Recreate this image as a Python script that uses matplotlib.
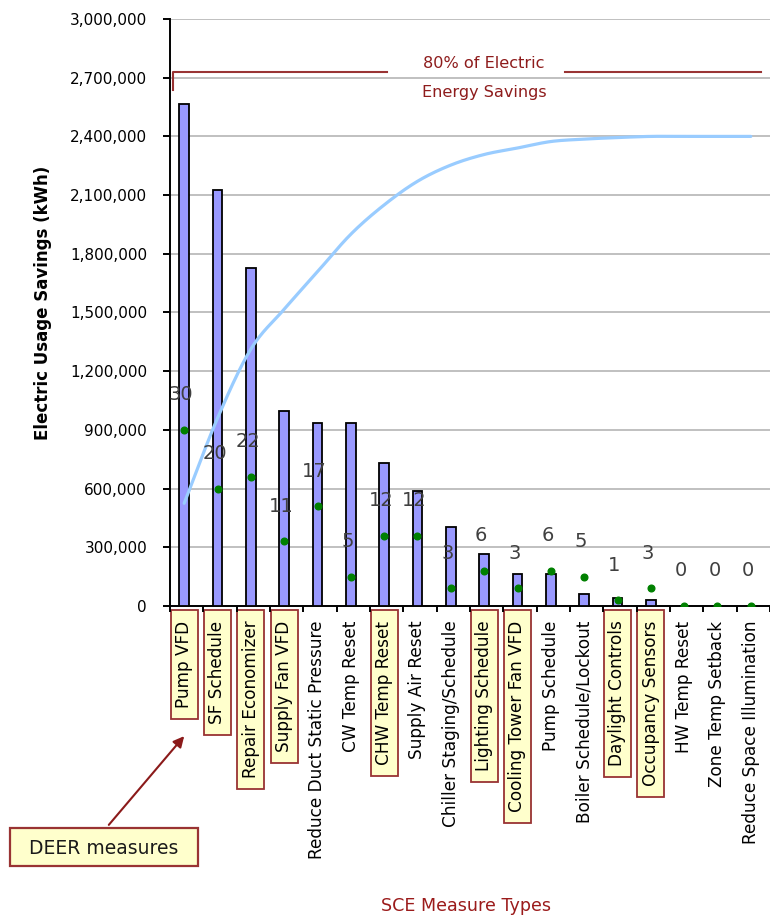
import numpy as np
import matplotlib
matplotlib.use("Agg")
import matplotlib.pyplot as plt
from matplotlib.patches import Rectangle, FancyArrowPatch
from matplotlib.ticker import FuncFormatter

# ---- data -------------------------------------------------------------
measures = ["Pump VFD", "SF Schedule", "Repair Economizer", "Supply Fan VFD",
            "Reduce Duct Static Pressure", "CW Temp Reset", "CHW Temp Reset",
            "Supply Air Reset", "Chiller Staging/Schedule", "Lighting Schedule",
            "Cooling Tower Fan VFD", "Pump Schedule", "Boiler Schedule/Lockout",
            "Daylight Controls", "Occupancy Sensors", "HW Temp Reset",
            "Zone Temp Setback", "Reduce Space Illumination"]
kwh_savings = [2565000, 2125000, 1725000, 997000, 937000, 937000, 732000,
               590000, 405000, 264000, 162000, 162000, 60000, 39000, 29000,
               0, 0, 0]
measure_counts = [30, 20, 22, 11, 17, 5, 12, 12, 3, 6, 3, 6, 5, 1, 3, 0, 0, 0]
deer_measure = [True, True, True, True, False, False, True, False, False,
                True, True, False, False, True, True, False, False, False]
y_ticks = list(range(0, 3000001, 300000))

W, H = 770, 917
fig = plt.figure(figsize=(W / 100, H / 100), dpi=100)


def fpx(x, y):
    """pixel position (origin top-left) -> figure fraction"""
    return x / W, 1 - y / H


ax_left, ax_top, ax_bottom = 170, 19, 606
ax = fig.add_axes([ax_left / W, 1 - ax_bottom / H, (W - ax_left) / W,
                   (ax_bottom - ax_top) / H])

n = len(measures)
idx = np.arange(n)
pos = idx - 0.075
cat_px = 34.1
ax.set_xlim(-0.5, -0.5 + (W - ax_left) / cat_px)
ax.set_ylim(0, 3000000)

# bars
ax.bar(pos, kwh_savings, width=0.29, color="#9999FF", edgecolor="black",
       linewidth=1.3, zorder=3)

# grid / spines / ticks
ax.set_axisbelow(True)
ax.yaxis.grid(True, color="#C0C0C0", linewidth=1.4)
for s in ("top", "right"):
    ax.spines[s].set_visible(False)
for s in ("left", "bottom"):
    ax.spines[s].set_linewidth(1.4)
ax.set_yticks(y_ticks)
ax.yaxis.set_major_formatter(FuncFormatter(lambda v, p: f"{int(v):,}"))
ax.tick_params(axis="y", length=5, width=1.4, pad=11.5, labelsize=11,
               direction="out")
ax.set_xticks(np.arange(-0.5, n + 0.5, 1.0))
ax.set_xticklabels([])
ax.set_xticks(pos, minor=True)
ax.set_xticklabels(measures, minor=True, rotation=90, fontsize=12.2,
                   va="top", ha="center")
ax.tick_params(axis="x", which="major", length=4.5, width=1.4,
               direction="out")
ax.tick_params(axis="x", which="minor", length=0, pad=10.5)

ax.set_ylabel("Electric Usage Savings (kWh)", fontsize=12, fontweight="bold",
              va="center")
ax.yaxis.set_label_coords((43 - ax_left) / (W - ax_left),
                          (ax_bottom - 303) / (ax_bottom - ax_top))

# cumulative share of savings (secondary scale, hidden)
ax_pct = ax.twinx()
ax_pct.set_ylim(0, 125)
ax_pct.set_axis_off()
cum_pct = np.cumsum(kwh_savings) / np.sum(kwh_savings) * 100


def catmull_rom(xs, ys, steps=24):
    xs = np.asarray(xs, float)
    ys = np.asarray(ys, float)
    px = np.concatenate([[2 * xs[0] - xs[1]], xs, [2 * xs[-1] - xs[-2]]])
    py = np.concatenate([[2 * ys[0] - ys[1]], ys, [2 * ys[-1] - ys[-2]]])
    out_x, out_y = [], []
    t = np.linspace(0, 1, steps, endpoint=False)
    for i in range(1, len(px) - 2):
        for arr, out in ((px, out_x), (py, out_y)):
            p0, p1, p2, p3 = arr[i - 1], arr[i], arr[i + 1], arr[i + 2]
            out.extend(0.5 * ((2 * p1) + (-p0 + p2) * t
                              + (2 * p0 - 5 * p1 + 4 * p2 - p3) * t ** 2
                              + (-p0 + 3 * p1 - 3 * p2 + p3) * t ** 3))
    out_x.append(xs[-1])
    out_y.append(ys[-1])
    return np.array(out_x), np.array(out_y)


sx, sy = catmull_rom(pos, cum_pct)
ax_pct.plot(sx, sy, color="#99CCFF", linewidth=2.3, solid_capstyle="round",
            zorder=4)

# number of measures (secondary scale, hidden)
ax_cnt = ax.twinx()
ax_cnt.set_ylim(0, 100)
ax_cnt.set_axis_off()
ax_cnt.plot(pos, measure_counts, linestyle="none", marker="o",
            markersize=4.8, color="#008000", zorder=5)
for x, c in zip(pos, measure_counts):
    ax_cnt.annotate(str(c), (x, c), xytext=(-2.2, 25.2),
                    textcoords="offset points", ha="center", va="center",
                    fontsize=14, color="#404040", zorder=6)

# 80% bracket and note
red = "#993333"
note_red = "#8E1C1C"
x_of = lambda p: -0.5 + (p - ax_left) / cat_px
ax.plot([x_of(172.7), x_of(172.7), x_of(392)],
        [2635000, 2730000, 2730000], color=red, linewidth=1.5,
        clip_on=False, zorder=4)
ax.plot([x_of(574), x_of(W + 5)], [2730000, 2730000], color=red,
        linewidth=1.5, zorder=4)
fig.text(*fpx(484, 64), "80% of Electric", ha="center", va="center",
         fontsize=11.6, color=note_red)
fig.text(*fpx(484, 93), "Energy Savings", ha="center", va="center",
         fontsize=11.6, color=note_red)

# axis title
fig.text(*fpx(466, 906), "SCE Measure Types", ha="center", va="center",
         fontsize=12.6, color="#9B1B1B")

# boxes around DEER measure labels
fig.canvas.draw()
renderer = fig.canvas.get_renderer()
for lab, flag in zip(ax.get_xticklabels(minor=True), deer_measure):
    if not flag:
        continue
    bb = lab.get_window_extent(renderer)
    x0 = bb.x0 - 4.5
    x1 = bb.x1 + 4.5
    top = H - 610
    y0 = bb.y0 - 11.0
    fig.patches.append(Rectangle((x0 / W, y0 / H), (x1 - x0) / W,
                                 (top - y0) / H, transform=fig.transFigure,
                                 facecolor="#FFFFCC", edgecolor=red,
                                 linewidth=1.3, zorder=-1))

# DEER measures callout
bx0, by0, bx1, by1 = 10, 828, 198, 866
fig.patches.append(Rectangle(fpx(bx0, by1), (bx1 - bx0) / W, (by1 - by0) / H,
                             transform=fig.transFigure, facecolor="#FFFFCC",
                             edgecolor=red, linewidth=1.6))
fig.text(*fpx((bx0 + bx1) / 2, (by0 + by1) / 2 + 1), "DEER measures",
         ha="center", va="center", fontsize=13.5, color="#1a1a1a")
fig.patches.append(FancyArrowPatch(fpx(107, 827), fpx(186, 734),
                                   transform=fig.transFigure,
                                   arrowstyle="-|>", mutation_scale=16,
                                   color="#8B1A1A", linewidth=1.5))

fig.savefig("out.png", dpi=100, facecolor="white")
